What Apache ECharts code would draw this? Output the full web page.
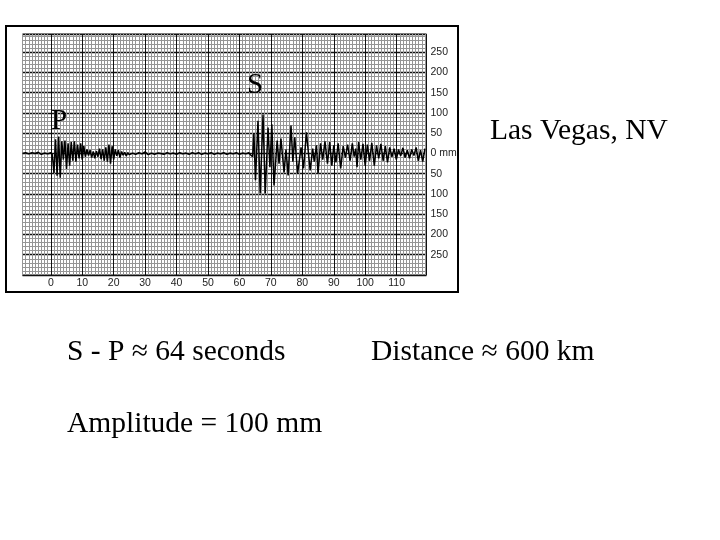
<!DOCTYPE html>
<html><head><meta charset="utf-8">
<script src="https://cdn.jsdelivr.net/npm/echarts@6/dist/echarts.min.js"></script>
<style>html,body{margin:0;padding:0;background:#fff}#c{width:720px;height:540px}</style>
</head><body><div id="c"></div>
<script>
// seismogram trace: time (s) and ground amplitude (mm)
const traceTime = [
  -9,-8,-7,-6,-5,-4,-3,-2,-1,0,
  0.5,1,1.5,2,2.5,3,3.5,4,4.5,5,
  5.5,6,6.5,7,7.5,8,8.5,9,9.5,10,
  10.5,11,11.5,12,12.5,13,13.5,14,14.5,15,
  15.5,16,16.5,17,17.5,18,18.5,19,19.5,20,
  20.5,21,21.5,22,22.5,23,23.5,24,24.5,25,
  26,27,28,29,30,31,32,33,34,35,
  36,37,38,39,40,41,42,43,44,45,
  46,47,48,49,50,51,52,53,54,55,
  56,57,58,59,60,61,62,63,63.5,
  64.2,64.6,65.1,65.9,66.6,67.5,68.2,69.1,69.7,70.3,
  71.0,72.0,72.6,73.2,74.2,74.8,75.5,76.4,77.0,77.6,
  78.5,79.6,80.4,81.3,82.5,83.3,83.8,84.5,85.0,85.8,
  86.5,87.2,88.0,88.7,89.4,90.0,90.7,91.4,92.2,93.0,
  93.7,94.4,95.2,95.9,96.5,97.0,97.4,97.9,98.6,99.3,
  100.0,100.7,101.4,102.1,102.9,103.6,104.3,105.0,105.7,106.4,
  107.1,107.8,108.5,109.2,109.9,110.6,111.3,112.0,112.7,113.4,
  114.1,114.8,115.5,116.2,116.9,117.6,118.3,119.0
];
const traceAmp = [
  0,2,-1,2,0,3,-2,1,-1,2,
  -3,-48,35,-55,42,-60,30,-15,32,-38,
  25,-30,28,-18,30,-20,22,-12,25,-15,
  18,-8,10,-5,8,-10,5,-12,6,-8,
  12,-14,10,-18,15,-20,22,-25,18,-15,
  10,-6,8,-10,5,-4,3,-6,2,-3,
  1,-2,2,-1,4,-3,1,-2,1,0,
  -2,2,-1,1,-2,2,-1,1,-2,2,
  -1,2,-2,1,-1,2,-2,1,-1,2,
  -2,1,-1,2,-2,1,-1,2,-3,
  -8,50,-66,81,-99,96,-99,64,-34,72,
  -79,32,-25,37,-47,10,-54,69,-20,40,
  -50,15,-37,52,-42,12,-20,20,-50,25,
  -15,30,-25,28,-30,20,-22,25,-37,18,
  -10,22,-18,25,-8,12,-34,28,-15,24,
  -30,22,-18,26,-30,20,-12,24,-18,18,
  -22,15,-8,12,-15,10,-6,14,-10,8,
  -12,10,-5,15,-18,8,-20,12
];
// tick labels
const xTickValues = [0,10,20,30,40,50,60,70,80,90,100,110];
const xTickLabels = ['0','10','20','30','40','50','60','70','80','90','100','110'];
const yTickValues = [250,200,150,100,50,0,-50,-100,-150,-200,-250];
const yTickLabels = ['250','200','150','100','50','0 mm','50','100','150','200','250'];

const minorC = '#959595', majorC = '#111';
const xColors = [];
for (let i = 0; i < 10; i++) xColors.push(i === 9 ? majorC : minorC);

const chart = echarts.init(document.getElementById('c'), null, {renderer: 'canvas'});
const serif = '"Liberation Serif","Times New Roman",serif';
chart.setOption({
  animation: false,
  backgroundColor: '#fff',
  grid: {left: 22.5, top: 34, width: 404, height: 241, show: true, borderColor: '#444', borderWidth: 1, backgroundColor: '#fff'},
  xAxis: [{
    type: 'value', min: -9, max: 119.5, interval: 1,
    axisLine: {show: false}, axisTick: {show: false},
    splitLine: {show: true, lineStyle: {color: xColors, width: 1}},
    axisLabel: {
      margin: 3, fontSize: 10.5, color: '#222', fontFamily: 'Liberation Sans',
      formatter: v => { const k = xTickValues.indexOf(v); return k >= 0 ? xTickLabels[k] : ''; }
    }
  }],
  yAxis: [{
    type: 'value', min: -300, max: 295, interval: 10,
    axisLine: {show: false}, axisTick: {show: false}, axisLabel: {show: false},
    splitLine: {show: true, lineStyle: {color: minorC, width: 1}}
  }, {
    type: 'value', min: -300, max: 295, interval: 50, position: 'right',
    axisLine: {show: false}, axisTick: {show: false},
    splitLine: {show: true, lineStyle: {color: majorC, width: 1.4}},
    axisLabel: {
      margin: 4, fontSize: 10.5, color: '#222', fontFamily: 'Liberation Sans', align: 'left',
      formatter: v => { const k = yTickValues.indexOf(v); return k >= 0 ? yTickLabels[k] : ''; }
    }
  }],
  series: [{
    type: 'line', xAxisIndex: 0, yAxisIndex: 0, symbol: 'none', z: 5,
    lineStyle: {color: '#000', width: 1.5},
    data: traceTime.map((t, i) => [t, traceAmp[i]])
  }],
  graphic: [
    {type: 'rect', shape: {x: 6, y: 26, width: 452, height: 266}, style: {fill: 'none', stroke: '#000', lineWidth: 2}, z: 10},
    {type: 'text', style: {text: 'P', x: 51, y: 106.5, font: '29px ' + serif, fill: '#000', verticalAlign: 'top'}, z: 10},
    {type: 'text', style: {text: 'S', x: 247, y: 70.5, font: '29px ' + serif, fill: '#000', verticalAlign: 'top'}, z: 10},
    {type: 'text', style: {text: 'Las Vegas, NV', x: 490, y: 116, font: '29.5px ' + serif, fill: '#000', verticalAlign: 'top'}},
    {type: 'text', style: {text: 'S - P ≈ 64 seconds', x: 67, y: 337, font: '29.5px ' + serif, fill: '#000', verticalAlign: 'top'}},
    {type: 'text', style: {text: 'Distance ≈ 600 km', x: 371, y: 337, font: '29.5px ' + serif, fill: '#000', verticalAlign: 'top'}},
    {type: 'text', style: {text: 'Amplitude = 100 mm', x: 67, y: 409, font: '29.5px ' + serif, fill: '#000', verticalAlign: 'top'}}
  ]
});
</script></body></html>
